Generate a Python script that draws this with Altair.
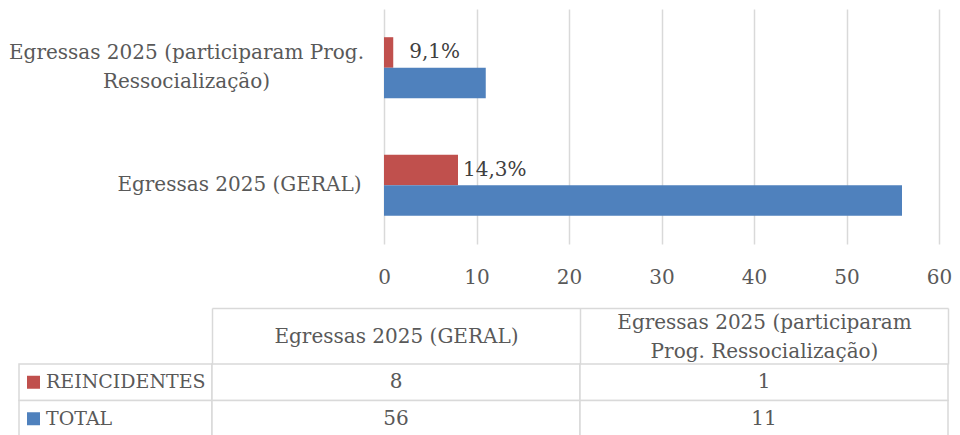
import altair as alt
import pandas as pd

# ---- data ----
categories = ["Egressas 2025 (GERAL)",
              "Egressas 2025 (participaram Prog. Ressocialização)"]
series = ["REINCIDENTES", "TOTAL"]
reincidentes = [8, 1]
total = [56, 11]
pct_labels = ["14,3%", "9,1%"]
colors = ["#C0504D", "#4F81BD"]
x_ticks = [0, 10, 20, 30, 40, 50, 60]

rows = []
for i, c in enumerate(categories):
    rows.append({"cat": c, "serie": series[0], "valor": reincidentes[i], "rotulo": pct_labels[i]})
    rows.append({"cat": c, "serie": series[1], "valor": total[i], "rotulo": ""})
df = pd.DataFrame(rows)
hdr_df = pd.DataFrame({"serie": series})

FONT = "DejaVu Serif"
GRAY = "#595959"
DARK = "#404040"
GRID = "#D9D9D9"

color = alt.Color("serie:N", scale=alt.Scale(domain=series, range=colors), legend=None)
bar_order = [categories[1], categories[0]]
is_long = f"datum.value == '{categories[1]}'"

# ---- bar chart ----
yaxis = alt.Axis(
    title=None, domain=False, ticks=False, grid=False,
    labelFont=FONT, labelFontSize=20, labelColor=GRAY, labelLineHeight=29,
    labelLimit=500, labelBaseline="middle",
    labelExpr="split(replace(datum.label, ' Ressocialização', '|Ressocialização'), '|')",
    labelAlign={"condition": {"test": is_long, "value": "center"}, "value": "right"},
    labelPadding={"condition": {"test": is_long, "value": 198}, "value": 23},
    labelOffset={"condition": {"test": is_long, "value": -14.5}, "value": 0},
)
xaxis = alt.Axis(
    title=None, values=x_ticks, grid=True, gridColor=GRID, gridWidth=1.5,
    domain=False, ticks=False, labelFont=FONT, labelFontSize=20,
    labelColor=GRAY, labelPadding=23, labelFlush=False,
)
yenc = alt.Y("cat:N", sort=bar_order,
             scale=alt.Scale(paddingInner=0.48, paddingOuter=0.24), axis=yaxis)
yoff = alt.YOffset("serie:N", sort=series)
xenc = alt.X("valor:Q", scale=alt.Scale(domain=[0, 60]), axis=xaxis)

base = alt.Chart(df)
bars = base.mark_bar().encode(y=yenc, yOffset=yoff, x=xenc, color=color)


def pct_layer(cat, dx):
    return base.transform_filter(
        (alt.datum.serie == series[0]) & (alt.datum.cat == cat)
    ).mark_text(align="left", baseline="middle", font=FONT, fontSize=20,
                color=DARK, dx=dx).encode(y=yenc, yOffset=yoff, x=xenc, text="rotulo:N")


bar_chart = alt.layer(bars, pct_layer(categories[0], 5), pct_layer(categories[1], 16)).properties(
    width=555, height=235)

spacer = alt.Chart(pd.DataFrame({"v": [0]})).mark_point(opacity=0).properties(width=365, height=235)

top_row = alt.hconcat(spacer, bar_chart, spacing=0, bounds="flush")

# ---- data table ----
row_y = alt.Y("serie:N", sort=series, axis=None,
              scale=alt.Scale(paddingInner=0, paddingOuter=0))
row_cells = alt.Chart(hdr_df).mark_rect(fill="white", stroke=GRID, strokeWidth=1.5).encode(y=row_y)
swatch = alt.Chart(hdr_df).mark_square(size=169, opacity=1).encode(
    y=row_y, x=alt.value(14.5), color=color)
row_txt = alt.Chart(hdr_df).mark_text(align="left", baseline="middle", font=FONT,
                                      fontSize=19, color=GRAY).encode(
    y=row_y, x=alt.value(27), text="serie:N")
row_hdr = alt.layer(row_cells, swatch, row_txt).properties(width=193, height=73)

header_axis = alt.Axis(
    orient="top", title=None, tickBand="extent", ticks=True, tickSize=56,
    tickColor=GRID, tickWidth=1.5, domain=False, grid=False,
    labelFont=FONT, labelFontSize=20, labelColor=GRAY, labelLineHeight=29,
    labelBaseline="middle", labelAngle=0, labelLimit=500, labelOverlap=False,
    labelPadding={"condition": {"test": is_long, "value": -14}, "value": -28},
    labelExpr="split(replace(datum.label, ' Prog.', '|Prog.'), '|')",
)
border_axis = alt.Axis(
    orient="top", title=None, labels=False, ticks=False, grid=False,
    domain=True, domainColor=GRID, domainWidth=1.5, offset=56,
)
col_scale = alt.Scale(paddingInner=0, paddingOuter=0)
body_rect = alt.Chart(df).mark_rect(fill="white", stroke=GRID, strokeWidth=1.5).encode(
    x=alt.X("cat:N", sort=categories, scale=col_scale, axis=header_axis), y=row_y)
body_txt = alt.Chart(df).mark_text(font=FONT, fontSize=20, color=GRAY, baseline="middle").encode(
    x=alt.X("cat:N", sort=categories, scale=col_scale, axis=border_axis), y=row_y,
    text="valor:Q")
body = alt.layer(body_rect, body_txt).resolve_axis(x="independent").properties(
    width=736, height=73)

table_row = alt.hconcat(row_hdr, body, spacing=0, bounds="flush")

chart = alt.vconcat(top_row, table_row, spacing=20).properties(
    padding={"left": 0, "top": 1, "right": 0, "bottom": 0}
).configure(font=FONT).configure_view(strokeWidth=0, stroke="transparent")

chart.save("out.html", embed_options={"renderer": "svg", "actions": False})
